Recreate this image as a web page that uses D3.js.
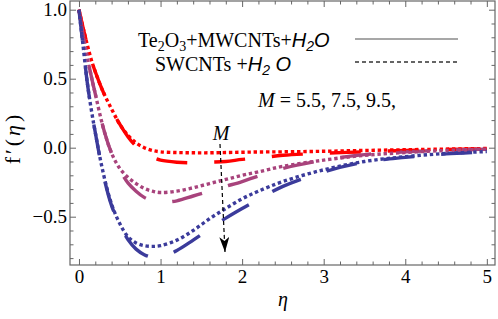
<!DOCTYPE html>
<html><head><meta charset="utf-8">
<script src="https://cdn.jsdelivr.net/npm/d3@7"></script>
<style>
html,body{margin:0;padding:0;background:#fff;}
svg{display:block;}
</style></head>
<body>
<svg id="chart" width="498" height="319"></svg>
<script>
// ---- data ----
const eta = [0, 0.05, 0.1, 0.15, 0.2, 0.3, 0.4, 0.5, 0.6, 0.7, 0.8, 0.9, 1.0, 1.2, 1.4, 1.6, 1.8, 2.0, 2.2, 2.5, 3.0, 3.5, 4.0, 4.5, 5.0];
// dotted curves (SWCNTs + H2O)
const redDot    = [1, 0.87, 0.75, 0.64, 0.55, 0.40, 0.28, 0.17, 0.09, 0.035, 0.0, -0.02, -0.03, -0.035, -0.037, -0.037, -0.035, -0.033, -0.031, -0.03, -0.026, -0.02, -0.015, -0.01, -0.006];
const purpleDot = [1, 0.82, 0.66, 0.52, 0.39, 0.14, -0.04, -0.15, -0.215, -0.26, -0.295, -0.315, -0.325, -0.315, -0.29, -0.26, -0.23, -0.2, -0.175, -0.135, -0.09, -0.055, -0.035, -0.02, -0.01];
const blueDot   = [1, 0.74, 0.48, 0.28, 0.11, -0.19, -0.41, -0.55, -0.645, -0.69, -0.71, -0.715, -0.71, -0.67, -0.6, -0.515, -0.44, -0.37, -0.315, -0.245, -0.16, -0.1, -0.065, -0.042, -0.028];
// long-dashed curves (Te2O3 + MWCNTs + H2O)
const redDash    = [1, 0.87, 0.75, 0.64, 0.55, 0.40, 0.28, 0.17, 0.08, 0.01, -0.04, -0.07, -0.09, -0.105, -0.11, -0.105, -0.1, -0.085, -0.075, -0.055, -0.04, -0.03, -0.02, -0.013, -0.008];
const purpleDash = [1, 0.82, 0.66, 0.52, 0.39, 0.14, -0.04, -0.16, -0.255, -0.315, -0.36, -0.385, -0.395, -0.385, -0.35, -0.315, -0.28, -0.245, -0.205, -0.15, -0.09, -0.05, -0.03, -0.018, -0.01];
const blueDash   = [1, 0.74, 0.48, 0.28, 0.11, -0.2, -0.42, -0.56, -0.665, -0.735, -0.775, -0.795, -0.795, -0.745, -0.67, -0.59, -0.51, -0.44, -0.375, -0.28, -0.175, -0.105, -0.07, -0.045, -0.03];
const seriesColors = ["#ff0000", "#a8437c", "#3b3b9b"];
const xTicks = [0, 1, 2, 3, 4, 5];
const yTicks = [-0.5, 0.0, 0.5, 1.0];
const legendLabels = ["SWCNTs", "Te2O3+MWCNTs"];
const mLabel = "M = 5.5, 7.5, 9.5,";

// ---- layout ----
const svg = d3.select("#chart");
const L = 70, R = 495, T = 1, B = 265;
const x = d3.scaleLinear().domain([-0.11, 5.1]).range([L, R]);
const y = d3.scaleLinear().domain([-0.85, 1.063]).range([B, T]);
const serif = "'Liberation Serif','Times New Roman',serif";
const sans = "'Liberation Sans',Arial,sans-serif";

// curves
svg.append("clipPath").attr("id","clip").append("rect")
  .attr("x", L).attr("y", T).attr("width", R-L).attr("height", B-T);
const line = d3.line().x((d,i)=>x(eta[i])).y(d=>y(d)).curve(d3.curveCatmullRom.alpha(0.5));
const g = svg.append("g").attr("clip-path","url(#clip)");
[redDash, purpleDash, blueDash].forEach((s,k)=>{
  g.append("path").attr("d", line(s)).attr("fill","none")
   .attr("stroke", seriesColors[k]).attr("stroke-width", 3.4)
   .attr("stroke-dasharray","31,27");
});
[redDot, purpleDot, blueDot].forEach((s,k)=>{
  g.append("path").attr("d", line(s)).attr("fill","none")
   .attr("stroke", seriesColors[k]).attr("stroke-width", 3.4)
   .attr("stroke-dasharray","3.4,2.8");
});

// frame + axes
const frameCol = "#666";
svg.append("rect").attr("x",L).attr("y",T).attr("width",R-L).attr("height",B-T)
  .attr("fill","none").attr("stroke",frameCol).attr("stroke-width",1.2);
const xMinor = d3.range(0, 5.01, 0.2).filter(v=>Math.abs(v-Math.round(v))>1e-6);
const yMinor = d3.range(-0.8, 1.05, 0.1).filter(v=>Math.abs(v*2-Math.round(v*2))>1e-6);

function styleAxis(sel){
  sel.select(".domain").remove();
  sel.selectAll("line").attr("stroke",frameCol).attr("stroke-width",1);
}
const fmtY = d3.format(".1f");
svg.append("g").attr("transform",`translate(0,${B})`)
  .call(d3.axisBottom(x).tickValues(xTicks).tickSize(-6).tickPadding(5).tickFormat(d3.format("d")))
  .call(styleAxis)
  .selectAll("text").attr("font-family",serif).attr("font-size",19).attr("fill","#000");
svg.append("g").attr("transform",`translate(0,${B})`)
  .call(d3.axisBottom(x).tickValues(xMinor).tickSize(-3.5).tickFormat(""))
  .call(styleAxis);
svg.append("g").attr("transform",`translate(0,${T})`)
  .call(d3.axisTop(x).tickValues(xTicks).tickSize(-6).tickFormat(""))
  .call(styleAxis);
svg.append("g").attr("transform",`translate(0,${T})`)
  .call(d3.axisTop(x).tickValues(xMinor).tickSize(-3.5).tickFormat(""))
  .call(styleAxis);
svg.append("g").attr("transform",`translate(${L},0)`)
  .call(d3.axisLeft(y).tickValues(yTicks).tickSize(-6).tickPadding(3).tickFormat(fmtY))
  .call(styleAxis)
  .selectAll("text").attr("font-family",serif).attr("font-size",19).attr("fill","#000");
svg.append("g").attr("transform",`translate(${L},0)`)
  .call(d3.axisLeft(y).tickValues(yMinor).tickSize(-3.5).tickFormat(""))
  .call(styleAxis);
svg.append("g").attr("transform",`translate(${R},0)`)
  .call(d3.axisRight(y).tickValues(yTicks).tickSize(-6).tickFormat(""))
  .call(styleAxis);
svg.append("g").attr("transform",`translate(${R},0)`)
  .call(d3.axisRight(y).tickValues(yMinor).tickSize(-3.5).tickFormat(""))
  .call(styleAxis);

// axis titles
svg.append("text").attr("x", 283).attr("y", 306).attr("text-anchor","middle")
  .attr("font-family",serif).attr("font-style","italic").attr("font-size",20).text("η");
const yl = svg.append("text").attr("transform","translate(20,138) rotate(-90)")
  .attr("text-anchor","middle").attr("font-family",serif).attr("font-size",22)
  .attr("letter-spacing","3");
yl.append("tspan").text("f′(");
yl.append("tspan").attr("font-style","italic").text("η");
yl.append("tspan").text(")");

// legend
function chem(xpos, ypos, base){
  const tx = svg.append("text").attr("x",xpos).attr("y",ypos).attr("font-family",serif).attr("font-size",20);
  if(base==="te"){
    tx.append("tspan").text("Te");
    tx.append("tspan").attr("font-size",14).attr("dy",4).text("2");
    tx.append("tspan").attr("dy",-4).text("O");
    tx.append("tspan").attr("font-size",14).attr("dy",4).text("3");
    tx.append("tspan").attr("dy",-4).text("+MWCNTs+");
  } else {
    tx.append("tspan").text("SWCNTs +");
  }
  tx.append("tspan").attr("font-family",sans).attr("font-style","italic").text("H");
  tx.append("tspan").attr("font-family",sans).attr("font-style","italic").attr("font-size",14).attr("dy",4).text("2");
  tx.append("tspan").attr("font-family",sans).attr("font-style","italic").attr("dy",-4).text(base==="te"?"O":" O");
  return tx;
}
chem(138, 47, "te");
chem(155, 71, "sw");
svg.append("line").attr("x1",355).attr("x2",458).attr("y1",39).attr("y2",39)
  .attr("stroke","#8a8a8a").attr("stroke-width",1.3);
svg.append("line").attr("x1",355).attr("x2",458).attr("y1",62).attr("y2",62)
  .attr("stroke","#333").attr("stroke-width",1.3).attr("stroke-dasharray","4,3");
const mt = svg.append("text").attr("x",258).attr("y",107).attr("font-family",serif).attr("font-size",20);
mt.append("tspan").attr("font-style","italic").text("M");
mt.append("tspan").attr("xml:space","preserve").text(" = 5.5, 7.5, 9.5,");

// arrow with M label
svg.append("text").attr("x",221).attr("y",140).attr("text-anchor","middle")
  .attr("font-family",serif).attr("font-style","italic").attr("font-size",20).text("M");
svg.append("defs").append("marker").attr("id","ah").attr("viewBox","0 0 15 10")
  .attr("refX",15).attr("refY",5).attr("markerWidth",15).attr("markerHeight",10)
  .attr("markerUnits","userSpaceOnUse").attr("orient","auto")
  .append("path").attr("d","M0,0 L15,5 L0,10 L4,5 Z").attr("fill","#000");
svg.append("line").attr("x1",220).attr("y1",144).attr("x2",225).attr("y2",252)
  .attr("stroke","#000").attr("stroke-width",1.2).attr("stroke-dasharray","4,3")
  .attr("marker-end","url(#ah)");
</script>
</body></html>
